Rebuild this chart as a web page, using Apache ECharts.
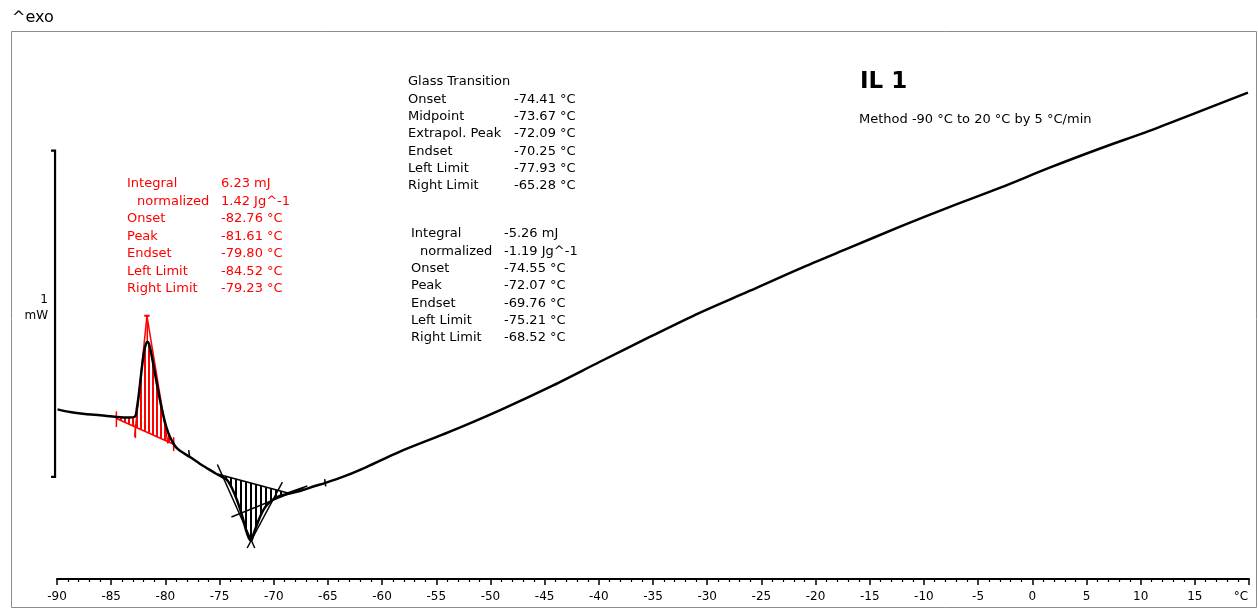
<!DOCTYPE html>
<html>
<head>
<meta charset="utf-8">
<script src="https://cdn.jsdelivr.net/npm/echarts@6/dist/echarts.min.js"></script>
<style>
html,body{margin:0;padding:0;background:#fff;}
#c{width:1258px;height:609px;}
</style>
</head>
<body>
<div id="c"></div>
<script>
// ---- data (temperature in °C, heat flow in mW, arbitrary offset) ----
const temps = [-89.95,-88.8,-87.4,-86.0,-84.5,-83.3,-82.8,-82.62,-82.43,-82.16,-81.97,-81.79,-81.65,-81.51,-81.33,-81.05,-80.78,-80.5,-80.22,-79.94,-79.58,-79.11,-78.65,-77.73,-76.53,-75.42,-74.78,-74.32,-73.86,-73.39,-72.93,-72.56,-72.29,-72.1,-71.83,-71.46,-71.0,-70.54,-69.98,-69.43,-68.69,-67.58,-66.2,-65.28,-63.4,-61.4,-58.4,-53.8,-49.1,-44.5,-39.9,-35.3,-30.7,-26.1,-21.5,-16.9,-12.2,-7.6,-3.0,1.6,6.2,10.8,15.4,19.9];
const heatFlow = [0.52,0.512,0.506,0.502,0.497,0.495,0.498,0.525,0.571,0.65,0.696,0.721,0.727,0.721,0.696,0.647,0.598,0.549,0.506,0.469,0.436,0.408,0.393,0.374,0.347,0.325,0.313,0.304,0.279,0.242,0.196,0.15,0.125,0.117,0.141,0.175,0.209,0.23,0.245,0.255,0.261,0.27,0.285,0.294,0.316,0.344,0.39,0.451,0.518,0.589,0.666,0.742,0.816,0.883,0.951,1.015,1.08,1.141,1.199,1.261,1.319,1.374,1.433,1.491];

// crystallisation peak (red) evaluation
const redBaseline = [[-84.52,0.492],[-79.23,0.413]];
const redLeftTangent = [[-82.84,0.436],[-81.70,0.807]];
const redRightTangent = [[-81.70,0.807],[-79.76,0.415]];
const redApex = [[-81.95,0.807],[-81.45,0.807]];
const redPeakDrop = [[-81.67,0.807],[-81.67,0.727]];
const redLimitMarks = [[[-84.52,0.514],[-84.52,0.466]],[[-82.76,0.475],[-82.76,0.432]],[[-79.23,0.435],[-79.23,0.392]]];

// endothermic peak / glass transition (black) evaluation
const blackBaseline = [[-75.21,0.322],[-68.52,0.262]];
const blackLeftTangent = [[-75.2,0.351],[-71.75,0.095]];
const blackRightTangent = [[-72.45,0.095],[-69.2,0.297]];
const glassTangent = [[-73.9,0.19],[-67.2,0.28]];
const glassUpperLine = [[-68.8,0.263],[-66.9,0.285]];
const glassLimitMarks = [[[-77.85,0.395],[-77.75,0.372]],[[-65.3,0.306],[-65.2,0.284]]];

// scale bar 1 mW
const scaleBarX = -90.18;
const scaleBarTickX = -90.55;
const scaleBarRange = [0.313, 1.313];

// texts
const redLabels = ['Integral','normalized','Onset','Peak','Endset','Left Limit','Right Limit'];
const redValues = ['6.23 mJ','1.42 Jg^-1','-82.76 °C','-81.61 °C','-79.80 °C','-84.52 °C','-79.23 °C'];
const glassLabels = ['Glass Transition','Onset','Midpoint','Extrapol. Peak','Endset','Left Limit','Right Limit'];
const glassValues = ['','-74.41 °C','-73.67 °C','-72.09 °C','-70.25 °C','-77.93 °C','-65.28 °C'];
const peakLabels = ['Integral','normalized','Onset','Peak','Endset','Left Limit','Right Limit'];
const peakValues = ['-5.26 mJ','-1.19 Jg^-1','-74.55 °C','-72.07 °C','-69.76 °C','-75.21 °C','-68.52 °C'];
const title = 'IL 1';
const method = 'Method -90 °C to 20 °C by 5 °C/min';

// ---- chart ----
const curve = temps.map((t,i)=>[t,heatFlow[i]]);
function region(base){
  const a = base[0], b = base[1];
  const inner = curve.filter(p=>p[0]>a[0] && p[0]<b[0]);
  return [a].concat(inner).concat([b]);
}
function hatch(color, period, w){
  const c = document.createElement('canvas');
  c.width = period; c.height = 8;
  const ctx = c.getContext('2d');
  ctx.fillStyle = color; ctx.fillRect(0,0,w,8);
  return {image:c, repeat:'repeat'};
}
const FONT = 'DejaVu Sans';
function seg(data,color,width,z){
  return {type:'line',data:data,symbol:'none',clip:false,silent:true,z:z||3,
    lineStyle:{color:color,width:width},animation:false};
}
function polySeries(pts, fill){
  return {type:'custom',coordinateSystem:'cartesian2d',data:[0],clip:false,silent:true,z:1,animation:false,
    renderItem:function(params,api){
      return {type:'polygon',shape:{points:pts.map(p=>api.coord(p))},style:{fill:fill,stroke:null}};
    }};
}
const series = [
  polySeries(region(redBaseline), hatch('#ff0000',4,2)),
  polySeries(region(blackBaseline), hatch('#000000',5,2)),
  seg(redBaseline,'#ff0000',1.5),
  seg(redLeftTangent,'#ff0000',1.5),
  seg(redRightTangent,'#ff0000',1.5),
  seg(redApex,'#ff0000',2),
  seg(redPeakDrop,'#ff0000',1.5)
].concat(redLimitMarks.map(m=>seg(m,'#ff0000',1.5)))
.concat([
  seg(blackBaseline,'#000',1.5),
  seg(blackLeftTangent,'#000',1.5),
  seg(blackRightTangent,'#000',1.5),
  seg(glassTangent,'#000',1.5),
  seg(glassUpperLine,'#000',1.5)
]).concat(glassLimitMarks.map(m=>seg(m,'#000',1.5)))
.concat([
  {type:'line',data:curve,symbol:'none',smooth:0.3,clip:false,silent:true,z:5,animation:false,
   lineStyle:{color:'#000',width:2.5,join:'round'}}
]);

const graphic = [
  {type:'rect',shape:{x:11.5,y:31.5,width:1245,height:576},style:{fill:null,stroke:'#8c8c8c',lineWidth:1},silent:true},
  {type:'text',x:12,y:18,style:{text:'^exo',font:'16px "'+FONT+'"',fill:'#000',textVerticalAlign:'middle'}},
  {type:'text',x:48,y:300,style:{text:'1',font:'12px "'+FONT+'"',fill:'#000',textAlign:'right',textVerticalAlign:'middle'}},
  {type:'text',x:48,y:316,style:{text:'mW',font:'12px "'+FONT+'"',fill:'#000',textAlign:'right',textVerticalAlign:'middle'}},
  {type:'text',x:860,y:82,style:{text:title,font:'bold 23px "'+FONT+'"',fill:'#000',textVerticalAlign:'middle'}},
  {type:'text',x:859,y:120,style:{text:method,font:'13px "'+FONT+'"',fill:'#000',textVerticalAlign:'middle'}}
];
function block(labels, values, x0, xv, y0, dy, color, indent){
  labels.forEach((l,i)=>{
    graphic.push({type:'text',x:x0+(i===1?indent:0),y:y0+i*dy,style:{text:l,font:'13px "'+FONT+'"',fill:color,textVerticalAlign:'middle'}});
    if(values[i]) graphic.push({type:'text',x:xv,y:y0+i*dy,style:{text:values[i],font:'13px "'+FONT+'"',fill:color,textVerticalAlign:'middle'}});
  });
}
block(redLabels, redValues, 127, 221, 184, 17.5, '#ff0000', 10);
block(glassLabels, glassValues, 408, 514, 82, 17.33, '#000', 0);
block(peakLabels, peakValues, 411, 504, 234, 17.33, '#000', 9);

const chart = echarts.init(document.getElementById('c'), null, {renderer:'canvas'});
const option = {
  animation:false,
  backgroundColor:'#fff',
  grid:{left:57,right:9,top:31,bottom:30,containLabel:false},
  xAxis:{type:'value',min:-90,max:20,interval:5,
    axisLine:{show:true,onZero:false,lineStyle:{color:'#000',width:2}},
    axisTick:{show:true,inside:false,length:6,lineStyle:{color:'#000',width:1.5}},
    minorTick:{show:true,splitNumber:5,length:3,lineStyle:{color:'#000',width:1.2}},
    splitLine:{show:false},
    axisLabel:{color:'#000',fontFamily:FONT,fontSize:12,margin:12,
      formatter:function(v){return v===20?'{u|°C}':String(v);},
      rich:{u:{fontFamily:FONT,fontSize:12,color:'#000',padding:[0,16,0,0]}},
      showMinLabel:true,showMaxLabel:true}
  },
  yAxis:{type:'value',min:0,max:1.68,show:false,splitLine:{show:false}},
  series:series,
  graphic:graphic
};
chart.setOption(option);

// scale bar (lies just left of the plotting area) placed through the chart's own scales
const pTop = chart.convertToPixel({gridIndex:0},[scaleBarX,scaleBarRange[1]]);
const pBot = chart.convertToPixel({gridIndex:0},[scaleBarX,scaleBarRange[0]]);
const pTick = chart.convertToPixel({gridIndex:0},[scaleBarTickX,scaleBarRange[0]]);
graphic.push(
  {type:'polyline',shape:{points:[[pTick[0],pTop[1]],[pTop[0],pTop[1]],[pBot[0],pBot[1]],[pTick[0],pBot[1]]]},
   style:{stroke:'#000',lineWidth:2.2,fill:null},silent:true,z:10}
);
chart.setOption({graphic:graphic});
</script>
</body>
</html>
